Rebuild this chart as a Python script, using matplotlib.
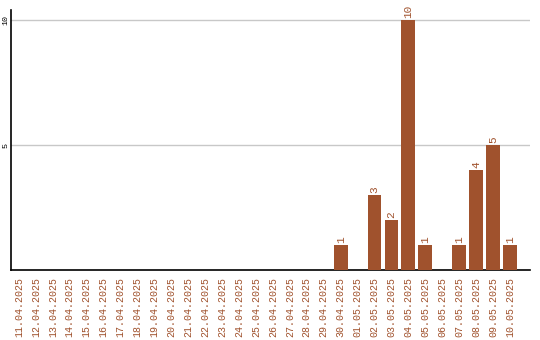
import matplotlib
matplotlib.use("Agg")
import matplotlib.pyplot as plt

dates = ["11.04.2025","12.04.2025","13.04.2025","14.04.2025","15.04.2025","16.04.2025",
         "17.04.2025","18.04.2025","19.04.2025","20.04.2025","21.04.2025","22.04.2025",
         "23.04.2025","24.04.2025","25.04.2025","26.04.2025","27.04.2025","28.04.2025",
         "29.04.2025","30.04.2025","01.05.2025","02.05.2025","03.05.2025","04.05.2025",
         "05.05.2025","06.05.2025","07.05.2025","08.05.2025","09.05.2025","10.05.2025"]
values = [0]*19 + [1, 0, 3, 2, 10, 1, 0, 1, 4, 5, 1]
yticks = [5, 10]

color = "#A0522D"
plt.rcParams['font.family'] = ['Liberation Mono', 'DejaVu Sans Mono']

fig = plt.figure(figsize=(5.4, 3.4), dpi=100)
ax = fig.add_axes([11/540, 70/340, 519/540, 260/340])
x = list(range(len(dates)))
ax.bar(x, values, width=0.82, color=color, zorder=3)
for xi, v in zip(x, values):
    if v > 0:
        ax.text(xi, v + 0.08, str(v), rotation=90, ha='center', va='bottom',
                color=color, fontsize=8)
ax.set_xlim(-0.47, 30.18)
ax.set_ylim(0, 10.4)
ax.set_yticks(yticks)
ax.set_yticklabels([str(t) for t in yticks], rotation=90, va='center', fontsize=6)
ax.set_xticks(x)
ax.set_xticklabels(dates, rotation=90, color=color, fontsize=7.2)
ax.tick_params(axis='both', length=0)
ax.tick_params(axis='x', pad=5)
ax.tick_params(axis='y', pad=1)
ax.grid(axis='y', color='#c8c8c8', linewidth=1, zorder=0)
ax.spines['top'].set_visible(False)
ax.spines['right'].set_visible(False)
ax.spines['left'].set_linewidth(1.2)
ax.spines['bottom'].set_linewidth(1.2)
fig.savefig("out.png", dpi=100)
